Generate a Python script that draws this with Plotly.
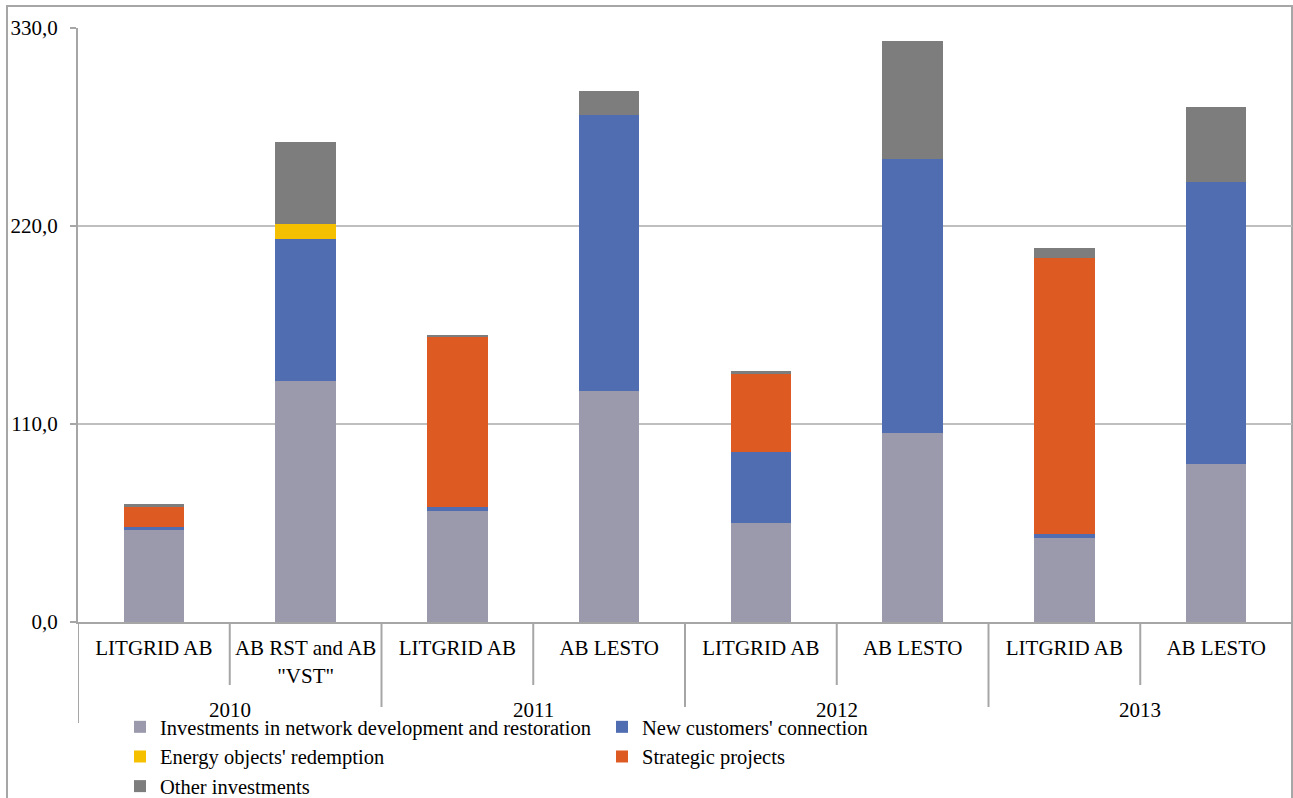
import plotly.graph_objects as go

years = ["2010", "2010", "2011", "2011", "2012", "2012", "2013", "2013"]
companies = ["LITGRID AB", 'AB RST and AB<br>"VST"', "LITGRID AB", "AB LESTO",
             "LITGRID AB", "AB LESTO", "LITGRID AB", "AB LESTO"]

network = [51.1, 133.9, 61.7, 128.3, 55.0, 105.0, 46.5, 87.8]
new_customers = [1.8, 78.9, 2.4, 153.4, 39.4, 152.2, 2.2, 156.6]
energy_redemption = [0, 8.3, 0, 0, 0, 0, 0, 0]
strategic = [11.2, 0, 94.1, 0, 43.9, 0, 153.7, 0]
other = [1.5, 45.4, 1.4, 13.3, 1.1, 65.6, 5.2, 41.7]

series = [
    ("Investments in network development and restoration", network, "#9A9AAC"),
    ("New customers' connection", new_customers, "#506DB1"),
    ("Energy objects' redemption", energy_redemption, "#F4C000"),
    ("Strategic projects", strategic, "#DD5A22"),
    ("Other investments", other, "#7D7D7D"),
]

W, H = 1293, 798
L, R, T, B = 78, 1, 28, 176
pw, ph = W - L - R, H - T - B

FONT = "Liberation Serif"
xs = list(range(len(companies)))

fig = go.Figure()
for name, vals, col in series:
    fig.add_trace(go.Bar(x=xs, y=vals, name=name, marker=dict(color=col, line=dict(width=0))))

def py(pix):
    return (H - B - pix) / ph

def px(pix):
    return (pix - L) / pw

shapes = []
# outer border
shapes.append(dict(type="rect", xref="paper", yref="paper", x0=px(7), x1=px(1292),
                    y0=py(900), y1=py(6), line=dict(color="#A6A6A6", width=2), layer="below"))
# dividers between companies within a year and between years
for i in range(len(xs) + 1):
    xpos = i - 0.5
    if i == 0 or i == len(xs) or years[i] != years[i - 1]:
        bottom = py(723)
    else:
        bottom = py(685)
    shapes.append(dict(type="line", xref="x", yref="paper", x0=xpos, x1=xpos,
                        y0=0, y1=bottom, line=dict(color="#A6A6A6", width=2)))

annotations = []
uniq = []
for y in years:
    if y not in uniq:
        uniq.append(y)
for y in uniq:
    idx = [i for i, v in enumerate(years) if v == y]
    annotations.append(dict(x=sum(idx) / len(idx), y=py(710), xref="x", yref="paper",
                            text=y, showarrow=False, yanchor="middle",
                            font=dict(family=FONT, size=21, color="black")))

fig.update_layout(
    width=W, height=H,
    margin=dict(l=L, r=R, t=T, b=B),
    barmode="stack",
    bargap=0.6,
    separators=", ",
    plot_bgcolor="white", paper_bgcolor="white",
    font=dict(family=FONT, size=21, color="black"),
    shapes=shapes,
    annotations=annotations,
    legend=dict(orientation="h", traceorder="normal", xref="container", yref="container",
                x=120 / W, y=1 - 707 / H, xanchor="left", yanchor="top",
                entrywidth=437, entrywidthmode="pixels",
                font=dict(family=FONT, size=20.5, color="black"),
                itemclick=False),
    xaxis=dict(range=[-0.5, len(xs) - 0.5], tickvals=xs, ticktext=companies,
               showgrid=False, showline=True, linecolor="#A6A6A6", linewidth=2,
               ticks="", tickfont=dict(family=FONT, size=21, color="black"),
               ticklabelstandoff=6, zeroline=False),
    yaxis=dict(range=[0, 330], tickvals=[0, 110, 220, 330], tickformat=".1f",
               showgrid=True, gridcolor="#BFBFBF", gridwidth=2,
               showline=True, linecolor="#A6A6A6", linewidth=2,
               ticks="outside", ticklen=6, tickcolor="#A6A6A6", tickwidth=2,
               tickfont=dict(family=FONT, size=21, color="black"),
               ticklabelstandoff=8, zeroline=False),
)

fig.write_html("out.html")
